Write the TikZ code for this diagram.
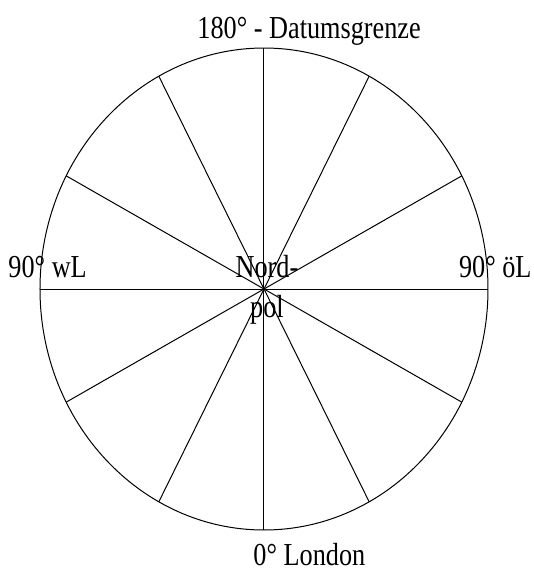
\documentclass[tikz,border=0pt]{standalone}
\usepackage{fontspec}
\setmainfont{Liberation Serif}
\usetikzlibrary{calc}

\begin{document}
\begin{tikzpicture}[x=1pt,y=1pt,line width=1pt]
\tikzset{lbl/.style={inner sep=0pt,font=\fontsize{32}{36}\selectfont}}
\useasboundingbox (-264,-285) rectangle (270,289);
\draw (0,0) ellipse (224 and 241);
\draw (180:224 and 241) -- (0:224 and 241);
\draw (90:224 and 241) -- (270:224 and 241);
\draw (28:224 and 241) -- (208:224 and 241);
\draw (62:224 and 241) -- (242:224 and 241);
\draw (118:224 and 241) -- (298:224 and 241);
\draw (152:224 and 241) -- (332:224 and 241);
\node[lbl,anchor=base west] (grenze) at (-67,251) {\scalebox{0.82}[1]{180° - Datumsgrenze}};
\node[lbl,anchor=base west] (west) at (-256,12) {\scalebox{0.82}[1]{90° wL}};
\node[lbl,anchor=base east] (ost) at (268,12) {\scalebox{0.82}[1]{90° öL}};
\node[lbl,anchor=base] (nord) at (3,12) {\scalebox{0.82}[1]{Nord-}};
\node[lbl,anchor=base] (pol) at (3,-28) {\scalebox{0.82}[1]{pol}};
\node[lbl,anchor=base west] (london) at (-11,-276) {\scalebox{0.82}[1]{0° London}};
\end{tikzpicture}
\end{document}
